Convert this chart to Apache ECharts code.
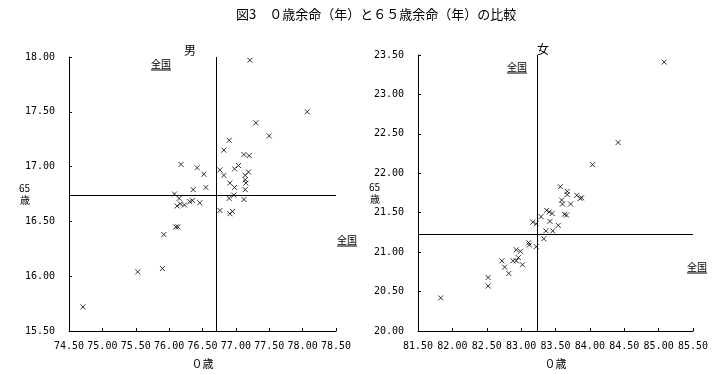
<!DOCTYPE html>
<html><head><meta charset="utf-8">
<script src="https://cdn.jsdelivr.net/npm/echarts@6/dist/echarts.min.js"></script>
<style>html,body{margin:0;padding:0;background:#fff}#c{width:718px;height:374px}</style>
</head><body><div id="c"></div>
<script>
// 男: 0歳余命, 65歳余命
const male0 = [77.21,78.07,77.30,77.50,76.90,76.82,77.12,77.20,76.18,76.42,76.52,76.76,76.82,76.98,77.04,77.19,77.14,77.14,77.15,76.91,76.98,77.14,76.36,76.55,76.08,76.15,76.12,76.17,76.23,76.31,76.35,76.46,76.97,76.90,77.12,76.76,76.91,76.95,76.10,76.13,75.92,75.53,75.90,74.71];
const male65 = [17.97,17.50,17.40,17.28,17.24,17.15,17.11,17.10,17.02,16.99,16.93,16.97,16.92,16.98,17.01,16.95,16.92,16.88,16.85,16.85,16.81,16.79,16.79,16.81,16.75,16.71,16.64,16.66,16.65,16.68,16.69,16.67,16.74,16.71,16.70,16.60,16.57,16.59,16.45,16.45,16.38,16.04,16.07,15.72];
// 女
const female0 = [85.08,84.41,84.04,83.57,83.67,83.67,83.81,83.88,83.86,83.59,83.60,83.72,83.37,83.41,83.45,83.29,83.63,83.66,83.42,83.54,83.17,83.22,83.36,83.46,83.33,83.11,83.12,83.22,82.93,82.99,82.96,82.88,82.93,83.02,82.72,82.76,82.82,82.52,82.52,81.83];
const female65 = [23.41,22.39,22.11,21.83,21.77,21.73,21.72,21.69,21.68,21.66,21.61,21.61,21.53,21.51,21.49,21.45,21.48,21.47,21.39,21.34,21.38,21.36,21.27,21.27,21.17,21.12,21.09,21.07,21.03,21.01,20.93,20.89,20.89,20.84,20.89,20.81,20.73,20.68,20.57,20.42];
// 全国
const maleNational = [76.70, 16.74];
const femaleNational = [83.23, 21.23];
// axis ranges
const maleXRange = [74.5, 78.5];
const maleYRange = [15.5, 18.0];
const femaleXRange = [81.5, 85.5];
const femaleYRange = [20.0, 23.5];
const tickStep = 0.5;

const titleText = '図3　０歳余命（年）と６５歳余命（年）の比較';
const xName = '０歳';
const yName = '65\n歳';

const CJK = '"Noto Sans CJK JP", sans-serif';
const MONO = '"DejaVu Sans Mono", monospace';

function pairs(a, b) { return a.map((v, i) => [v, b[i]]); }

function xAxis(idx, r) {
  return {
    gridIndex: idx, type: 'value', min: r[0], max: r[1], interval: tickStep,
    name: xName, nameLocation: 'middle', nameGap: 27,
    nameTextStyle: { fontFamily: CJK, fontSize: 11, color: '#000' },
    axisLine: { onZero: false, lineStyle: { color: '#000', width: 1 } },
    axisTick: { inside: true, length: 3, lineStyle: { color: '#000' } },
    axisLabel: { color: '#000', fontFamily: MONO, fontSize: 10, margin: 10, formatter: v => v.toFixed(2) },
    splitLine: { show: false }
  };
}
function yAxis(idx, r, gap) {
  return {
    gridIndex: idx, type: 'value', min: r[0], max: r[1], interval: tickStep,
    name: yName, nameLocation: 'middle', nameGap: gap, nameRotate: 0, nameMoveOverlap: false,
    nameTextStyle: { fontFamily: CJK, fontSize: 10, color: '#000', lineHeight: 12 },
    axisLine: { onZero: false, lineStyle: { color: '#000', width: 1 } },
    axisTick: { inside: true, length: 3, lineStyle: { color: '#000' } },
    axisLabel: { color: '#000', fontFamily: MONO, fontSize: 10, margin: 14, formatter: v => v.toFixed(2) },
    splitLine: { show: false }
  };
}
function scatter(idx, data, nat) {
  return {
    type: 'scatter', xAxisIndex: idx, yAxisIndex: idx, data: data,
    symbol: 'path://M0,0L10,10M10,0L0,10', symbolSize: 5,
    itemStyle: { color: 'rgba(0,0,0,0)', borderColor: '#000', borderWidth: 1 },
    animation: false, silent: true,
    markLine: {
      silent: true, symbol: 'none', animation: false,
      label: { show: false },
      lineStyle: { color: '#000', width: 1, type: 'solid' },
      data: [{ xAxis: nat[0] }, { yAxis: nat[1] }]
    }
  };
}
function natLabel(x, y) {
  return [
    { type: 'text', left: x - 10, top: y - 6, style: { text: '全国', font: '10px ' + CJK, fill: '#000' } },
    { type: 'line', shape: { x1: x - 10, y1: y + 5, x2: x + 10, y2: y + 5 }, style: { stroke: '#000', lineWidth: 1 } }
  ];
}

const chart = echarts.init(document.getElementById('c'), null, { renderer: 'canvas' });
chart.setOption({
  backgroundColor: '#fff',
  animation: false,
  title: [
    { text: titleText, left: 231, top: 3, textStyle: { fontFamily: CJK, fontSize: 13, fontWeight: 'normal', color: '#000' } },
    { text: '男', left: 179, top: 39, textStyle: { fontFamily: CJK, fontSize: 12, fontWeight: 'normal', color: '#000' } },
    { text: '女', left: 532, top: 38, textStyle: { fontFamily: CJK, fontSize: 12, fontWeight: 'normal', color: '#000' } }
  ],
  grid: [
    { left: 69, top: 57, width: 267, height: 275 },
    { left: 418, top: 55, width: 275, height: 277 }
  ],
  xAxis: [xAxis(0, maleXRange), xAxis(1, femaleXRange)],
  yAxis: [yAxis(0, maleYRange, 39), yAxis(1, femaleYRange, 38)],
  series: [
    scatter(0, pairs(male0, male65), maleNational),
    scatter(1, pairs(female0, female65), femaleNational)
  ],
  graphic: [].concat(natLabel(161, 65), natLabel(347, 241), natLabel(517, 68), natLabel(697, 268))
});
</script></body></html>
